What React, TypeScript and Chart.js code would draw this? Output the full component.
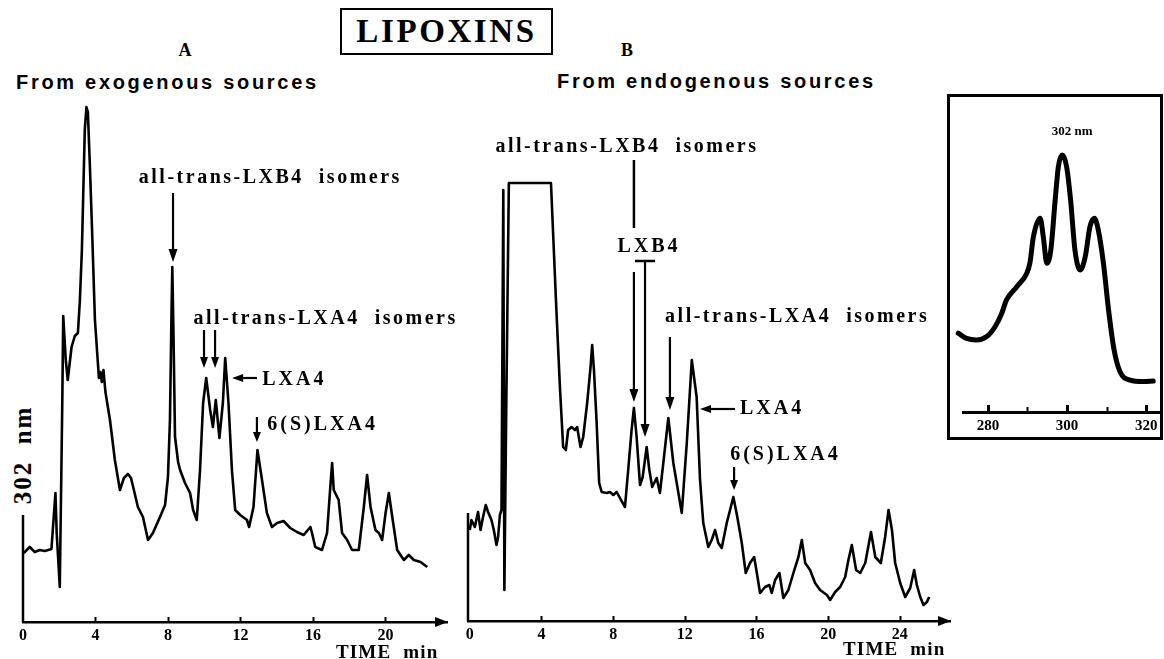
import React, { useEffect, useRef } from 'react';
import { Chart, registerables } from 'chart.js';

Chart.register(...registerables);

// ---------- DATA ----------
// Panel A: lipoxins from exogenous sources (time in min, absorbance at 302 nm, arbitrary units)
const timeA = [0.04, 0.37, 0.65, 0.92, 1.2, 1.57, 1.79, 1.86, 2.03, 2.17, 2.22, 2.36, 2.47, 2.68, 2.86, 3.03, 3.14, 3.25, 3.33, 3.41, 3.5, 3.58, 3.69, 3.83, 3.97, 4.19, 4.27, 4.35, 4.44, 4.55, 4.8, 5.07, 5.35, 5.57, 5.79, 5.96, 6.12, 6.34, 6.62, 6.9, 7.17, 7.56, 7.84, 8.0, 8.11, 8.19, 8.24, 8.31, 8.39, 8.56, 8.67, 8.94, 9.22, 9.39, 9.59, 9.77, 9.94, 10.11, 10.33, 10.48, 10.64, 10.84, 11.03, 11.16, 11.34, 11.53, 11.71, 11.99, 12.36, 12.48, 12.72, 12.94, 13.19, 13.46, 13.74, 14.02, 14.38, 14.75, 15.12, 15.49, 15.86, 15.95, 16.13, 16.5, 16.78, 16.96, 17.06, 17.15, 17.42, 17.61, 17.89, 18.16, 18.53, 18.81, 18.99, 19.18, 19.45, 19.64, 19.82, 20.01, 20.19, 20.38, 20.65, 21.02, 21.29, 21.57, 21.94, 22.31];
const signalA = [13.8, 15.0, 14.0, 14.4, 14.2, 14.6, 25.8, 17.8, 7.0, 44.4, 61.2, 52.4, 48.4, 55, 57.2, 57.8, 64.4, 74.4, 86.4, 98.4, 103, 102, 91.4, 76.4, 60.4, 48.8, 50, 48, 50.4, 46, 40.4, 32.4, 26.4, 28.8, 29.6, 28.8, 26.4, 23, 21, 16.4, 17.8, 21, 23.4, 29, 40.4, 60.4, 71, 56.4, 37, 32, 30.4, 27.8, 25.8, 22.4, 20.4, 30.4, 43.8, 48.8, 42.4, 39, 44.4, 36.8, 43.8, 52.8, 43.8, 30.4, 22.4, 21.4, 20.4, 19, 23, 34.4, 28.4, 21.8, 19, 19.8, 20.2, 18.8, 18, 17.4, 19, 17.8, 15, 14.4, 17.8, 27, 31.8, 26.4, 24.4, 17.8, 16.4, 14.4, 14.4, 23, 29.4, 23, 18.4, 17.8, 16.4, 21.8, 25.8, 21, 14.4, 12.4, 13.4, 12.4, 12, 11];

// Panel B: lipoxins from endogenous sources
const timeB = [0, 0.09, 0.28, 0.46, 0.6, 0.74, 0.89, 1.02, 1.21, 1.34, 1.49, 1.58, 1.68, 1.77, 1.87, 1.93, 2.04, 2.18, 4.53, 4.84, 5.03, 5.21, 5.36, 5.49, 5.68, 5.87, 5.99, 6.18, 6.33, 6.55, 6.74, 6.83, 6.93, 7.08, 7.22, 7.36, 7.64, 7.82, 8.01, 8.2, 8.38, 8.66, 8.84, 9.03, 9.16, 9.31, 9.5, 9.65, 9.87, 10.02, 10.18, 10.43, 10.61, 10.8, 11.08, 11.36, 11.83, 12.11, 12.39, 12.66, 12.85, 13.03, 13.31, 13.5, 13.69, 13.87, 14.06, 14.34, 14.71, 14.93, 15.18, 15.4, 15.64, 15.87, 16.02, 16.2, 16.48, 16.72, 16.85, 17.04, 17.28, 17.5, 17.78, 18.06, 18.34, 18.53, 18.72, 18.99, 19.27, 19.55, 19.93, 20.11, 20.39, 20.67, 20.95, 21.13, 21.32, 21.56, 21.79, 22.07, 22.39, 22.63, 22.94, 23.18, 23.37, 23.56, 23.74, 24.02, 24.3, 24.58, 24.8, 24.95, 25.14, 25.32, 25.51, 25.64];
const signalB = [18.2, 20.2, 18.8, 21.8, 18.2, 20.8, 23.2, 21.8, 20.2, 18.2, 15.2, 16.8, 21.2, 22.2, 86.2, 6.2, 44.2, 87.6, 87.6, 61.6, 46.8, 34.8, 34.2, 38.2, 38.8, 38.2, 38.8, 34.8, 36.8, 43.6, 50.8, 55.2, 50.2, 39.6, 27.6, 25.8, 25.6, 25.8, 25.2, 25.8, 24.6, 22.8, 30.2, 38.2, 42.6, 36.8, 27.2, 28.8, 34.8, 30.2, 26.8, 28.6, 25.6, 31.6, 40.6, 31.6, 21.6, 35.6, 52.2, 44.8, 28.2, 19.6, 14.8, 16.2, 18.2, 15.6, 14.6, 19.6, 24.8, 20.8, 15.6, 9.6, 11.6, 12.8, 9.6, 5.6, 6.8, 7.2, 5.6, 8.2, 9.6, 4.6, 6.2, 9.6, 12.8, 16.2, 11.6, 10.2, 7.6, 6.2, 5.2, 4.2, 5.8, 6.8, 8.8, 12.2, 15.2, 10.2, 9.6, 11.6, 17.8, 12.8, 11.6, 16.8, 22.2, 18.2, 11.6, 7.6, 4.8, 6.6, 10.2, 7.2, 4.8, 3.2, 3.8, 4.8];

// Inset: UV spectrum
const wavelength = [272.5, 274.6, 277.1, 279.7, 281.8, 283.5, 284.7, 287.3, 289.8, 290.6, 291.5, 293.2, 294.0, 294.9, 295.9, 297.0, 297.8, 298.8, 299.9, 300.9, 302.0, 303.3, 304.6, 305.8, 306.9, 307.9, 309.2, 310.5, 311.9, 313.4, 315.9, 319.3, 321.8];
const absorbance = [30.3, 28.3, 27.7, 29.0, 32.8, 38.0, 43.1, 48.2, 53.3, 57.2, 67.4, 74.5, 67.4, 57.2, 62.3, 81.5, 94.3, 98.8, 94.3, 81.5, 62.3, 54.6, 59.7, 71.3, 74.5, 70.0, 57.2, 39.2, 23.8, 15.5, 12.3, 11.7, 11.9];

// Tick settings
const timeTickStep = 4;
const wavelengthTickStep = 10;
const wavelengthLabelStep = 20;

// ---------- helpers ----------
const SERIF = '"Liberation Serif", "Times New Roman", serif';
const SANS = '"Liberation Sans", Arial, sans-serif';

function toPoints(xs: number[], ys: number[]) {
  return xs.map((x, i) => ({ x, y: ys[i] }));
}

type Item = any;

function makeOverlay(items: Item[], opts: { axisArrow?: boolean; tick?: (v: number) => [number, number] | null }) {
  return {
    id: 'overlay',
    afterDraw(chart: any) {
      const { ctx, chartArea } = chart;
      const xs = chart.scales.x;
      const ys = chart.scales.y;
      ctx.save();
      ctx.fillStyle = '#000';
      ctx.strokeStyle = '#000';
      if (opts.tick) {
        for (const t of xs.ticks) {
          const spec = opts.tick(t.value);
          if (!spec) continue;
          const px = Math.round(xs.getPixelForValue(t.value)) + 0.5;
          ctx.lineWidth = spec[1];
          ctx.beginPath();
          ctx.moveTo(px, chartArea.bottom);
          ctx.lineTo(px, chartArea.bottom - spec[0]);
          ctx.stroke();
        }
      }
      if (opts.axisArrow) {
        const x = chartArea.right;
        const y = chartArea.bottom;
        ctx.beginPath();
        ctx.moveTo(x + 1, y);
        ctx.lineTo(x - 12, y - 5);
        ctx.lineTo(x - 12, y + 5);
        ctx.closePath();
        ctx.fill();
      }
      for (const it of items) {
        if (it.kind === 'text') {
          ctx.font = `bold ${it.size || 20}px ${SERIF}`;
          (ctx as any).letterSpacing = `${it.ls ?? 3}px`;
          ctx.textAlign = it.align || 'center';
          ctx.textBaseline = 'middle';
          ctx.fillText(it.text, xs.getPixelForValue(it.x), ys.getPixelForValue(it.y));
          (ctx as any).letterSpacing = '0px';
        } else {
          const x1 = xs.getPixelForValue(it.x1);
          const y1 = ys.getPixelForValue(it.y1);
          const x2 = xs.getPixelForValue(it.x2);
          const y2 = ys.getPixelForValue(it.y2);
          ctx.lineWidth = it.w || 2.2;
          if (it.kind === 'line') {
            ctx.beginPath();
            ctx.moveTo(x1, y1);
            ctx.lineTo(x2, y2);
            ctx.stroke();
          } else {
            const ang = Math.atan2(y2 - y1, x2 - x1);
            const hl = it.hl || 12;
            const hw = it.hw || 4;
            const bx = x2 - hl * Math.cos(ang);
            const by = y2 - hl * Math.sin(ang);
            ctx.beginPath();
            ctx.moveTo(x1, y1);
            ctx.lineTo(bx, by);
            ctx.stroke();
            ctx.beginPath();
            ctx.moveTo(x2, y2);
            ctx.lineTo(bx + hw * Math.sin(ang), by - hw * Math.cos(ang));
            ctx.lineTo(bx - hw * Math.sin(ang), by + hw * Math.cos(ang));
            ctx.closePath();
            ctx.fill();
          }
        }
      }
      ctx.restore();
    },
  };
}

function chromatogramConfig(
  xs: number[],
  ys: number[],
  xMin: number,
  xMax: number,
  padding: any,
  axisHeight: number,
  items: Item[]
): any {
  return {
    type: 'line',
    data: {
      datasets: [
        {
          data: toPoints(xs, ys),
          borderColor: '#000',
          borderWidth: 2.6,
          pointRadius: 0,
          tension: 0,
          fill: false,
          borderJoinStyle: 'round',
        },
      ],
    },
    options: {
      animation: false,
      responsive: false,
      maintainAspectRatio: false,
      devicePixelRatio: 1,
      events: [],
      layout: { padding },
      plugins: { legend: { display: false }, tooltip: { enabled: false }, title: { display: false } },
      scales: {
        x: {
          type: 'linear',
          min: xMin,
          max: xMax,
          grid: { display: false, drawTicks: false },
          border: { display: true, color: '#000', width: 2.5 },
          ticks: {
            stepSize: timeTickStep,
            includeBounds: false,
            padding: 4,
            color: '#000',
            maxRotation: 0,
            font: { family: SERIF, weight: 'bold', size: 16 },
          },
          afterFit: (s: any) => {
            s.height = axisHeight;
          },
        },
        y: { type: 'linear', display: false, min: 0, max: 104 },
      },
    },
    plugins: [makeOverlay(items, { axisArrow: true, tick: (v) => (v > 0 ? [5, 2] : null) })],
  };
}

// ---------- annotations (layout, in data coordinates) ----------
const itemsA: Item[] = [
  { kind: 'line', x1: 0, y1: 0, x2: 0, y2: 21.4, w: 2.5 },
  { kind: 'text', x: 13.65, y: 88.8, text: 'all-trans-LXB4  isomers', ls: 2.5 },
  { kind: 'arrow', x1: 8.28, y1: 85.8, x2: 8.28, y2: 72, hl: 13, hw: 4.5 },
  { kind: 'text', x: 16.7, y: 60.6, text: 'all-trans-LXA4  isomers', ls: 2.5 },
  { kind: 'arrow', x1: 9.99, y1: 58.4, x2: 9.99, y2: 50.8, hl: 11, hw: 4 },
  { kind: 'arrow', x1: 10.6, y1: 58.4, x2: 10.6, y2: 50.8, hl: 11, hw: 4 },
  { kind: 'arrow', x1: 12.91, y1: 48.8, x2: 11.54, y2: 48.8, hl: 11, hw: 4 },
  { kind: 'text', x: 13.2, y: 48.4, text: 'LXA4', align: 'left' },
  { kind: 'arrow', x1: 12.91, y1: 41, x2: 12.91, y2: 36, hl: 10, hw: 4 },
  { kind: 'text', x: 13.48, y: 39.5, text: '6(S)LXA4', align: 'left' },
  { kind: 'text', x: 20.1, y: -6.2, text: 'TIME  min', size: 19, ls: 1.2 },
];

const itemsB: Item[] = [
  { kind: 'line', x1: -0.1, y1: 0, x2: -0.1, y2: 21.6, w: 2.5 },
  { kind: 'text', x: 8.77, y: 94.8, text: 'all-trans-LXB4  isomers', ls: 2.5 },
  { kind: 'line', x1: 9.16, y1: 92.2, x2: 9.16, y2: 78.6, w: 2.5 },
  { kind: 'text', x: 10.0, y: 74.8, text: 'LXB4' },
  { kind: 'line', x1: 9.22, y1: 72, x2: 10.34, y2: 72, w: 2.5 },
  { kind: 'arrow', x1: 9.78, y1: 72, x2: 9.78, y2: 36.8, hl: 13, hw: 4.5 },
  { kind: 'arrow', x1: 9.16, y1: 69.8, x2: 9.16, y2: 43.8, hl: 13, hw: 4.5 },
  { kind: 'text', x: 18.27, y: 60.8, text: 'all-trans-LXA4  isomers', ls: 2.5 },
  { kind: 'arrow', x1: 11.17, y1: 56.8, x2: 11.17, y2: 42.2, hl: 13, hw: 4.5 },
  { kind: 'arrow', x1: 14.8, y1: 42.4, x2: 12.85, y2: 42.4, hl: 11, hw: 4 },
  { kind: 'text', x: 15.08, y: 42.4, text: 'LXA4', align: 'left' },
  { kind: 'text', x: 14.53, y: 33.2, text: '6(S)LXA4', align: 'left' },
  { kind: 'arrow', x1: 14.75, y1: 30.8, x2: 14.75, y2: 26.2, hl: 10, hw: 4 },
  { kind: 'text', x: 23.69, y: -5.8, text: 'TIME  min', size: 19, ls: 1.2 },
];

const itemsInset: Item[] = [{ kind: 'text', x: 301.3, y: 108, text: '302 nm', size: 13, ls: 0 }];

function insetConfig(): any {
  return {
    type: 'line',
    data: {
      datasets: [
        {
          data: toPoints(wavelength, absorbance),
          borderColor: '#000',
          borderWidth: 5,
          pointRadius: 0,
          cubicInterpolationMode: 'monotone',
          fill: false,
          clip: false,
          borderCapStyle: 'round',
          borderJoinStyle: 'round',
        },
      ],
    },
    options: {
      animation: false,
      responsive: false,
      maintainAspectRatio: false,
      devicePixelRatio: 1,
      events: [],
      layout: { padding: { left: 18, right: 4, top: 10, bottom: 0 } },
      plugins: { legend: { display: false }, tooltip: { enabled: false } },
      scales: {
        x: {
          type: 'linear',
          min: 273.7,
          max: 323.5,
          grid: { display: false, drawTicks: false },
          border: { display: true, color: '#000', width: 3 },
          ticks: {
            stepSize: wavelengthTickStep,
            includeBounds: false,
            padding: 5,
            color: '#000',
            maxRotation: 0,
            font: { family: SERIF, weight: 'bold', size: 15 },
            callback: (v: any) => (Number(v) % wavelengthLabelStep === 0 ? String(v) : ''),
          },
          afterFit: (s: any) => {
            s.height = 33;
          },
        },
        y: { type: 'linear', display: false, min: 0, max: 120 },
      },
    },
    plugins: [
      makeOverlay(itemsInset, {
        tick: (v) => (v % wavelengthLabelStep === 0 ? [7, 3] : [5, 2]),
      }),
    ],
  };
}

function ChartCanvas({ left, top, width, height, make }: any) {
  const ref = useRef<HTMLCanvasElement>(null);
  useEffect(() => {
    const chart = new Chart(ref.current as HTMLCanvasElement, make());
    return () => chart.destroy();
  }, []);
  return (
    <canvas
      ref={ref}
      width={width}
      height={height}
      style={{ position: 'absolute', left, top, width, height }}
    />
  );
}

function Label({ x, y, children, style }: any) {
  return (
    <div
      style={{
        position: 'absolute',
        left: x,
        top: y,
        transform: 'translate(-50%, -50%)',
        whiteSpace: 'pre',
        lineHeight: 1,
        color: '#000',
        ...style,
      }}
    >
      {children}
    </div>
  );
}

export default function App() {
  const serifBold = { fontFamily: SERIF, fontWeight: 'bold' };
  const sansBold = { fontFamily: SANS, fontWeight: 'bold' };
  return (
    <div
      style={{
        position: 'absolute',
        left: 0,
        top: 0,
        width: 1164,
        height: 659,
        background: '#fff',
        overflow: 'hidden',
      }}
    >
      <div
        style={{
          position: 'absolute',
          left: 340,
          top: 8,
          width: 213,
          height: 47,
          boxSizing: 'border-box',
          border: '2px solid #000',
          display: 'flex',
          alignItems: 'center',
          justifyContent: 'center',
          fontSize: 33,
          letterSpacing: 2.6,
          ...serifBold,
        }}
      >
        LIPOXINS
      </div>
      <Label x={185} y={50} style={{ ...serifBold, fontSize: 18 }}>A</Label>
      <Label x={627} y={50} style={{ ...serifBold, fontSize: 18 }}>B</Label>
      <div style={{ position: 'absolute', left: 16, top: 72, fontSize: 20, letterSpacing: 2.7, lineHeight: 1, whiteSpace: 'nowrap', ...sansBold }}>
        From exogenous sources
      </div>
      <div style={{ position: 'absolute', left: 557, top: 71, fontSize: 20, letterSpacing: 2.7, lineHeight: 1, whiteSpace: 'nowrap', ...sansBold }}>
        From endogenous sources
      </div>
      <Label x={22} y={455} style={{ ...serifBold, fontSize: 25, letterSpacing: 2, transform: 'translate(-50%, -50%) rotate(-90deg)' }}>
        {'302  nm'}
      </Label>

      <ChartCanvas
        left={0}
        top={95}
        width={465}
        height={564}
        make={() => chromatogramConfig(timeA, signalA, 0, 23.4, { left: 23, right: 18, top: 7, bottom: 0 }, 37, itemsA)}
      />
      <ChartCanvas
        left={455}
        top={95}
        width={500}
        height={564}
        make={() => chromatogramConfig(timeB, signalB, -0.1, 26.8, { left: 13, right: 5, top: 6, bottom: 0 }, 38, itemsB)}
      />

      <div
        style={{
          position: 'absolute',
          left: 947,
          top: 94,
          width: 216,
          height: 346,
          boxSizing: 'border-box',
          border: '3px solid #000',
        }}
      />
      <ChartCanvas left={945} top={90} width={219} height={355} make={insetConfig} />
    </div>
  );
}
